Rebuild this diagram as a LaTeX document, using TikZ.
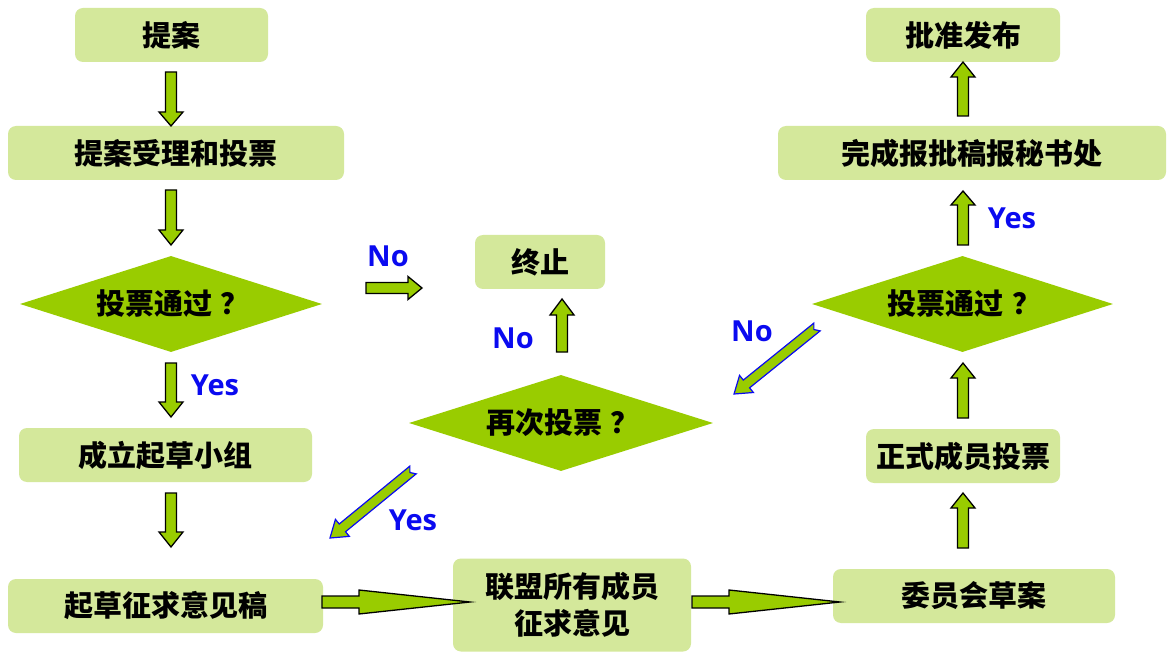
\documentclass[tikz,border=0pt]{standalone}
\usepackage{fontspec}
\newfontfamily\cjk{Noto Sans CJK SC}
\newfontfamily\lat{Open Sans}
\usetikzlibrary{shapes.geometric,calc}
\definecolor{boxg}{RGB}{212,232,155}
\definecolor{diag}{RGB}{153,204,0}
\definecolor{lblue}{RGB}{10,10,240}
\tikzset{
 box/.style={fill=boxg, rounded corners=8pt, inner sep=0pt, text=black, align=center,
   font=\cjk\bfseries\fontsize{29}{37}\selectfont},
 dia/.style={diamond, fill=diag, aspect=3.15, inner sep=0pt, minimum width=302pt, minimum height=96pt,
   text=black, font=\cjk\bfseries\fontsize{29}{37}\selectfont},
 lbl/.style={text=lblue, inner sep=0pt, font=\lat\bfseries\fontsize{29}{34}\selectfont},
 barrow/.style={fill=diag, draw=black, line width=1.3pt, line join=miter},
 darrow/.style={fill=diag, draw=lblue, line width=1.2pt, line join=miter},
}
\newcommand\qm{\hspace{9pt}？}
\newcommand\vblock[4]{\draw[barrow] ({#1-5.5},#2) -- ({#1+5.5},#2) -- ({#1+5.5},#4) -- ({#1+12},#4) -- (#1,#3) -- ({#1-12},#4) -- ({#1-5.5},#4) -- cycle;}
\newcommand\hblock[6]{\draw[barrow] (#2,{#1-#5}) -- (#3,{#1-#5}) -- (#3,{#1-#6}) -- (#4,#1) -- (#3,{#1+#6}) -- (#3,{#1+#5}) -- (#2,{#1+#5}) -- cycle;}
\newcommand\diagarrow[3]{%
 \coordinate (#1T) at #2;
 \coordinate (#1P) at #3;
 \coordinate (#1H) at ($(#1P)!16pt!(#1T)$);
 \draw[darrow] ($(#1T)!5pt!90:(#1P)$) -- ($(#1H)!5pt!90:(#1P)$) -- ($(#1H)!11pt!90:(#1P)$) -- (#1P)
   -- ($(#1H)!11pt!-90:(#1P)$) -- ($(#1H)!5pt!-90:(#1P)$) -- ($(#1T)!5pt!-90:(#1P)$) -- ($(#1T)!4pt!(#1P)$) -- cycle;}
\begin{document}
\begin{tikzpicture}[x=1pt,y=-1pt]
\useasboundingbox[fill=white] (0,0) rectangle (1167,652);
% left column
\node[box, minimum width=193pt, minimum height=54pt] (n1) at (171.5,35) {提案};
\node[box, minimum width=336pt, minimum height=54pt] (n2) at (176,153) {提案受理和投票};
\node[dia] (d1) at (171,304) {};
\node (t1) at ([xshift=2pt]d1.center) [font=\cjk\bfseries\fontsize{29}{37}\selectfont] {投票通过\qm};
\node[box, minimum width=293pt, minimum height=54pt] (n3) at (165.5,455) {成立起草小组};
\node[box, minimum width=315pt, minimum height=54pt] (n4) at (165.5,606) {起草征求意见稿};
% middle
\node[box, minimum width=130pt, minimum height=54pt] (stop) at (540,262) {终止};
\node[dia, minimum width=304pt] (d2) at (561,423) {};
\node (t2) at ([xshift=2pt]d2.center) [font=\cjk\bfseries\fontsize{29}{37}\selectfont] {再次投票\qm};
\node[box, minimum width=238pt, minimum height=93pt] (n5) at (572,605) {联盟所有成员\\征求意见};
% right column
\node[box, minimum width=194pt, minimum height=54pt] (n9) at (963,35) {批准发布};
\node[box, minimum width=388pt, minimum height=54pt] (n8) at (972,153) {完成报批稿报秘书处};
\node[dia, minimum width=301pt] (d3) at (962.5,304) {};
\node (t3) at ([xshift=2pt]d3.center) [font=\cjk\bfseries\fontsize{29}{37}\selectfont] {投票通过\qm};
\node[box, minimum width=194pt, minimum height=54pt] (n7) at (963,456) {正式成员投票};
\node[box, minimum width=282pt, minimum height=54pt] (n6) at (974,596) {委员会草案};
% block arrows
\vblock{171}{72}{126}{112}
\vblock{171}{190}{245}{230}
\vblock{171}{363}{417}{402}
\vblock{171}{493}{547}{532}
\vblock{562}{352}{299}{315}
\vblock{963}{116}{62}{77}
\vblock{963}{245}{191}{205}
\vblock{963}{418}{363}{378}
\vblock{963}{548}{493}{508}
\hblock{288}{366}{408}{422}{5.5}{11.5}
\hblock{602}{322}{359}{470}{6}{12}
\hblock{602}{692}{729}{840}{6}{12}
\diagarrow{a}{(413,470)}{(330,538)}
\diagarrow{b}{(817,327)}{(734,394)}
% labels
\node[lbl] (l1) at (388,256) {No};
\node[lbl] (l2) at (513,338) {No};
\node[lbl] (l3) at (752,331) {No};
\node[lbl] (l4) at (215,385) {Yes};
\node[lbl] (l5) at (413,520) {Yes};
\node[lbl] (l6) at (1012,218) {Yes};
\end{tikzpicture}
\end{document}
